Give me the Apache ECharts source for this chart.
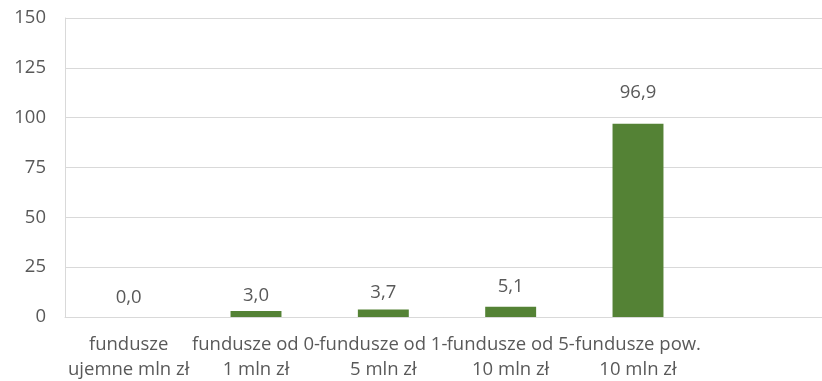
<!DOCTYPE html>
<html>
<head>
<meta charset="utf-8">
<script src="https://cdn.jsdelivr.net/npm/echarts@6/dist/echarts.min.js"></script>
<style>
  html, body { margin: 0; padding: 0; background: #fff; }
  #chart { width: 822px; height: 381px; }
</style>
</head>
<body>
<div id="chart"></div>
<script>
// Fund groups by net asset size; the last slot on the axis is left empty
const categories = [
  'fundusze\nujemne mln zł',
  'fundusze od 0-\n1 mln zł',
  'fundusze od 1-\n5 mln zł',
  'fundusze od 5-\n10 mln zł',
  'fundusze pow.\n10 mln zł',
  ''
];
const values = [0.0, 3.0, 3.7, 5.1, 96.9, null];
const yTicks = [0, 25, 50, 75, 100, 125, 150];

// gap between each bar top and its value label (px)
const labelGaps = [10, 6, 7, 11, 22, 0];

const textColor = '#595959';
const gridColor = '#d9d9d9';
const fontFamily = '"Open Sans", "Noto Sans", sans-serif';
const fontSize = 18.5;

const chart = echarts.init(document.getElementById('chart'));
chart.setOption({
  animation: false,
  // plot area runs a little past the right edge of the canvas
  grid: {
    left: 65, width: 764, top: 18, bottom: 64,
    containLabel: false,
    outerBoundsMode: 'none'
  },
  xAxis: {
    type: 'category',
    data: categories,
    axisLine: { show: true, lineStyle: { color: gridColor, width: 1 } },
    axisTick: { show: false },
    axisLabel: {
      interval: 0,
      color: textColor,
      fontFamily: fontFamily,
      fontSize: fontSize,
      lineHeight: 25,
      margin: 15,
      align: 'center'
    }
  },
  yAxis: {
    type: 'value',
    min: yTicks[0],
    max: yTicks[yTicks.length - 1],
    interval: yTicks[1] - yTicks[0],
    axisLine: { show: true, lineStyle: { color: gridColor, width: 1 } },
    axisTick: { show: false },
    splitLine: { lineStyle: { color: gridColor, width: 1 } },
    axisLabel: {
      color: textColor,
      fontFamily: fontFamily,
      fontSize: fontSize,
      margin: 19
    }
  },
  series: [{
    type: 'bar',
    barWidth: '40%',
    itemStyle: { color: '#548235' },
    data: values.map((v, i) => ({
      value: v,
      label: { distance: labelGaps[i] }
    })),
    label: {
      show: true,
      position: 'top',
      color: textColor,
      fontFamily: fontFamily,
      fontSize: fontSize,
      formatter: p => p.value == null ? '' : p.value.toFixed(1).replace('.', ',')
    }
  }]
});
</script>
</body>
</html>
